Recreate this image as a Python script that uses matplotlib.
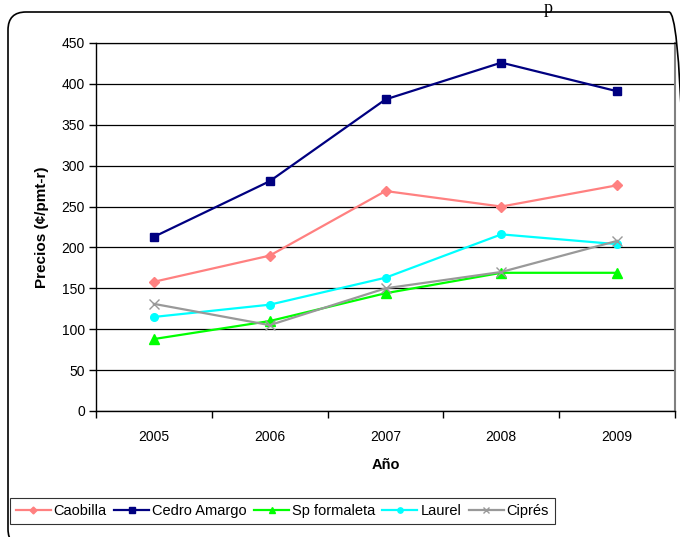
import matplotlib
matplotlib.use("Agg")
import matplotlib.pyplot as plt
from matplotlib.patches import FancyBboxPatch
from matplotlib.transforms import IdentityTransform

years = ["2005", "2006", "2007", "2008", "2009"]
caobilla = [158, 190, 269, 250, 276]
cedro_amargo = [213, 281, 381, 426, 391]
sp_formaleta = [88, 110, 144, 169, 169]
laurel = [115, 130, 163, 216, 204]
cipres = [131, 105, 150, 170, 208]
yticks = [0, 50, 100, 150, 200, 250, 300, 350, 400, 450]

plt.rcParams['font.family'] = ['Liberation Sans', 'DejaVu Sans']

W, H = 680, 537
fig = plt.figure(figsize=(6.8, 5.37), dpi=100)

# outer rounded frame (pixel coordinates, origin bottom-left)
frame = FancyBboxPatch((8, -10), 679, (H - 12) + 10,
                       boxstyle="round,pad=0,rounding_size=18",
                       transform=IdentityTransform(), facecolor='none',
                       edgecolor='black', linewidth=1.2, zorder=5)
fig.patches.append(frame)
fig.text(548 / W, 1 - 0 / H, "p", family='Liberation Serif', fontsize=13,
         ha='center', va='top')

ax = fig.add_axes([96 / W, 1 - 411 / H, (675 - 96) / W, (411 - 43) / H])
ax.set_facecolor('white')
x = list(range(len(years)))

ax.plot(x, caobilla, color='#ff8080', marker='D', markersize=5, lw=1.6, label='Caobilla')
ax.plot(x, cedro_amargo, color='#000080', marker='s', markersize=5.5, lw=1.6, label='Cedro Amargo')
ax.plot(x, sp_formaleta, color='#00ff00', marker='^', markersize=6.5, lw=1.6, label='Sp formaleta')
ax.plot(x, laurel, color='#00ffff', marker='o', markersize=5.5, lw=1.6, label='Laurel')
ax.plot(x, cipres, color='#999999', marker='x', markersize=7, mew=1.0, lw=1.6, label='Ciprés')

ax.set_xlim(-0.5, len(years) - 0.5)
ax.set_ylim(0, 450)
ax.set_yticks(yticks)
ax.set_yticklabels([str(v) for v in yticks], fontsize=10)
ax.set_xticks([i - 0.5 for i in range(len(years) + 1)], minor=False)
ax.set_xticklabels([''] * (len(years) + 1))
ax.set_xticks(x, minor=True)
ax.set_xticklabels(years, minor=True, fontsize=10)
ax.tick_params(axis='x', which='minor', length=0, pad=14)
ax.tick_params(axis='x', which='major', length=5, direction='out', width=1)
ax.tick_params(axis='y', length=5, direction='out', width=1, pad=3)

ax.yaxis.grid(True, color='black', linewidth=0.9)
ax.set_axisbelow(True)
for s in ['left', 'bottom']:
    ax.spines[s].set_color('black')
    ax.spines[s].set_linewidth(1.0)
ax.spines['top'].set_color('black')
ax.spines['top'].set_linewidth(0.9)
ax.spines['right'].set_color('#808080')
ax.spines['right'].set_linewidth(1.5)

ax.set_xlabel('Año', fontsize=10.5, fontweight='bold', labelpad=10)
ax.set_ylabel('Precios (¢/pmt-r)', fontsize=11, fontweight='bold', labelpad=9,
              fontstretch='expanded')

leg = ax.legend(loc='lower left', bbox_to_anchor=(10 / W, 13 / H),
                bbox_transform=fig.transFigure, ncol=5, frameon=True,
                fancybox=False, fontsize=10.5, handlelength=2.4,
                handletextpad=0.2, columnspacing=0.5, borderpad=0.4,
                borderaxespad=0, markerscale=0.7)
leg.get_frame().set_edgecolor('black')
leg.get_frame().set_linewidth(0.8)

fig.savefig('out.png', dpi=100)
